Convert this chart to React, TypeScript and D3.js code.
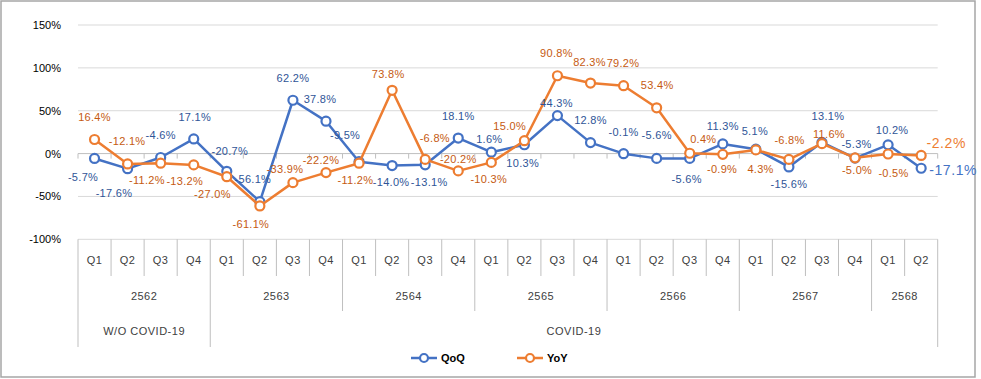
import React from "react";
import * as d3 from "d3";

const quarters = ["Q1","Q2","Q3","Q4","Q1","Q2","Q3","Q4","Q1","Q2","Q3","Q4","Q1","Q2","Q3","Q4","Q1","Q2","Q3","Q4","Q1","Q2","Q3","Q4","Q1","Q2"];
const years = ["2562","2563","2564","2565","2566","2567","2568"];
const yearCounts = [4,4,4,4,4,4,2];
const periods = ["W/O COVID-19","COVID-19"];
const periodCounts = [4,22];
const qoq = [-5.7,-17.6,-4.6,17.1,-20.7,-56.1,62.2,37.8,-9.5,-14.0,-13.1,18.1,1.6,10.3,44.3,12.8,-0.1,-5.6,-5.6,11.3,5.1,-15.6,13.1,-5.3,10.2,-17.1];
const yoy = [16.4,-12.1,-11.2,-13.2,-27.0,-61.1,-33.9,-22.2,-11.2,73.8,-6.8,-20.2,-10.3,15.0,90.8,82.3,79.2,53.4,0.4,-0.9,4.3,-6.8,11.6,-5.0,-0.5,-2.2];
const yTicks = [-100,-50,0,50,100,150];

// label placement offsets (px) relative to each point
const qoqDx = [-11.5,-13.6,0,1,3,-7,0,-6,-14,-1,4,0,-2,-1.7,-1,0,0,0,-3,0,-1,0,6,1.5,4,8];
const qoqDy = [19,24,-22.6,-22,-20.4,-23,-22,-22.5,-26.5,16.4,17,-22,-13.6,18,-13,-23,-22,-23,21,-17.6,-18,16.6,-26,-14.6,-14.5,2];
const yoyDx = [0,-0.5,-13.7,-9,-14.4,-9,-8,-5,-3.7,-4,9.6,0,-2.6,-14.7,-1,-1,-0.6,0.5,13.6,-0.7,4.7,0.6,7,2,5.4,5.3];
const yoyDy = [-22.5,-23,17,16,17,18,-13.5,-13,16.4,-16.5,-21.8,-11.4,17,-15,-23,-21.5,-23,-22.4,-14.7,14.2,18.7,-19.8,-10,12.4,18.6,-12];

const W = 981, H = 379;
const left = 78, right = 937.7, top = 25, bottom = 239.3;
const FONT = "'Liberation Sans', Arial, sans-serif";

export default function App() {
  const idx = quarters.map((_, i) => i);
  const x = d3.scaleBand<number>().domain(idx).range([left, right]).padding(0);
  const y = d3.scaleLinear().domain([-100, 150]).range([bottom, top]);
  const bw = x.bandwidth();
  const cx = (i: number) => (x(i) as number) + bw / 2;
  const line = d3.line<number>().x((_, i) => cx(i)).y((d) => y(d));

  const series = [
    { name: "QoQ", data: qoq, color: "#4472C4", text: "#2F5597", dx: qoqDx, dy: qoqDy },
    { name: "YoY", data: yoy, color: "#ED7D31", text: "#C55A11", dx: yoyDx, dy: yoyDy },
  ];

  const yearStarts: number[] = [];
  yearCounts.reduce((acc, c) => { yearStarts.push(acc); return acc + c; }, 0);
  const periodStarts: number[] = [];
  periodCounts.reduce((acc, c) => { periodStarts.push(acc); return acc + c; }, 0);
  const xEdge = (k: number) => (k >= idx.length ? right : (x(k) as number));

  const row1 = 276, row2 = 311, row3 = 347;
  const axisColor = "#BFBFBF";

  return (
    <svg width={W} height={H} style={{ position: "absolute", left: 0, top: 0 }} fontFamily={FONT}>
      <rect x={0} y={0} width={W} height={H} fill="#fff" />
      <rect x={1} y={1} width={974} height={376} fill="none" stroke="#A6A6A6" strokeWidth={1.5} />
      {yTicks.map((t) => (
        <g key={t}>
          <line x1={left} x2={right} y1={y(t)} y2={y(t)} stroke={t === 0 ? "#BFBFBF" : "#D9D9D9"} strokeWidth={1} />
          <text x={61} y={y(t)} textAnchor="end" dominantBaseline="central" fontSize={11} fill="#000">{t}%</text>
        </g>
      ))}
      {d3.range(idx.length + 1).map((k) => (
        <line key={"zt" + k} x1={xEdge(k)} x2={xEdge(k)} y1={y(0)} y2={y(0) + 5} stroke={axisColor} />
      ))}
      {d3.range(idx.length + 1).map((k) => {
        let y2 = row1;
        if (yearStarts.includes(k) || k === idx.length) y2 = row2;
        if (periodStarts.includes(k) || k === idx.length) y2 = row3;
        return <line key={"cl" + k} x1={xEdge(k)} x2={xEdge(k)} y1={bottom} y2={y2} stroke={axisColor} />;
      })}
      {quarters.map((q, i) => (
        <text key={"q" + i} x={cx(i)} y={260} textAnchor="middle" dominantBaseline="central" fontSize={11} fill="#404040" letterSpacing={0.5}>{q}</text>
      ))}
      {years.map((yr, j) => (
        <text key={yr} x={(xEdge(yearStarts[j]) + xEdge(yearStarts[j] + yearCounts[j])) / 2} y={295.5} textAnchor="middle" dominantBaseline="central" fontSize={11} fill="#404040" letterSpacing={0.5}>{yr}</text>
      ))}
      {periods.map((p, j) => (
        <text key={p} x={(xEdge(periodStarts[j]) + xEdge(periodStarts[j] + periodCounts[j])) / 2} y={331} textAnchor="middle" dominantBaseline="central" fontSize={11} fill="#404040" letterSpacing={0.5}>{p}</text>
      ))}
      {series.map((s) => (
        <g key={s.name}>
          <path d={line(s.data) || ""} fill="none" stroke={s.color} strokeWidth={2.5} strokeLinejoin="round" />
          {s.data.map((v, i) => (
            <circle key={i} cx={cx(i)} cy={y(v)} r={4.5} fill="#fff" stroke={s.color} strokeWidth={2.2} />
          ))}
        </g>
      ))}
      {series.map((s) => (
        <g key={s.name + "l"}>
          {s.data.map((v, i) => {
            const last = i === s.data.length - 1;
            return (
              <text key={i} x={cx(i) + s.dx[i]} y={y(v) + s.dy[i]} textAnchor={last ? "start" : "middle"} dominantBaseline="central" fontSize={last ? 14 : 11} fill={last ? s.color : s.text} letterSpacing={last ? 0.6 : 0.3}>
                {v.toFixed(1)}%
              </text>
            );
          })}
        </g>
      ))}
      {series.map((s, j) => {
        const lx = j === 0 ? 411 : 517;
        return (
          <g key={s.name + "lg"}>
            <line x1={lx} x2={lx + 26} y1={358} y2={358} stroke={s.color} strokeWidth={2.5} />
            <circle cx={lx + 13} cy={358} r={4} fill="#fff" stroke={s.color} strokeWidth={2.2} />
            <text x={lx + 30} y={358} dominantBaseline="central" fontSize={11} fontWeight="bold" fill="#000">{s.name}</text>
          </g>
        );
      })}
    </svg>
  );
}
